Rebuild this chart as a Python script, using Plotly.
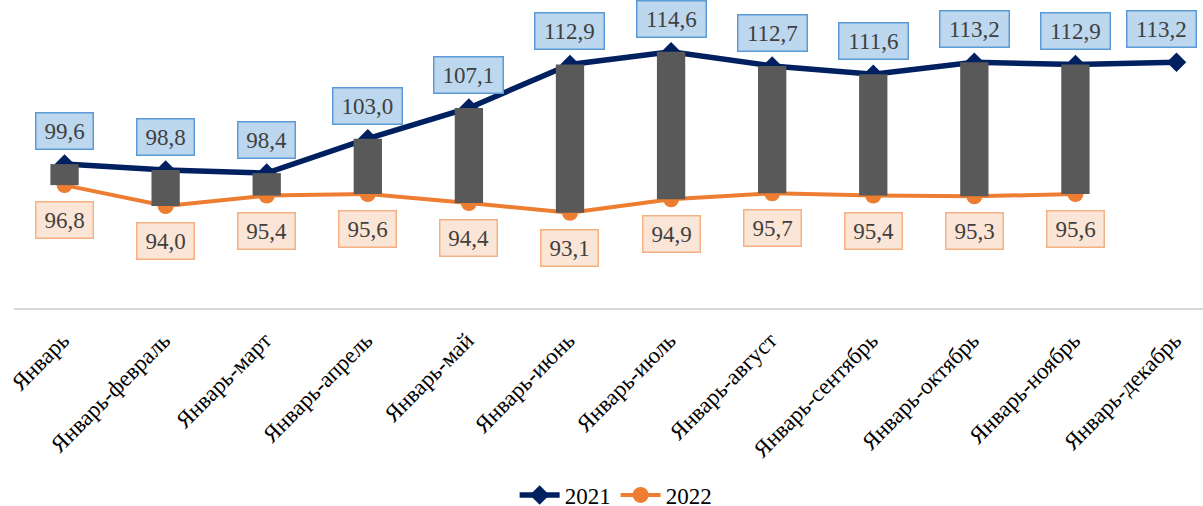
import plotly.graph_objects as go

categories = ["Январь", "Январь-февраль", "Январь-март", "Январь-апрель", "Январь-май",
              "Январь-июнь", "Январь-июль", "Январь-август", "Январь-сентябрь",
              "Январь-октябрь", "Январь-ноябрь", "Январь-декабрь"]
values_2021 = [99.6, 98.8, 98.4, 103.0, 107.1, 112.9, 114.6, 112.7, 111.6, 113.2, 112.9, 113.2]
values_2022 = [96.8, 94.0, 95.4, 95.6, 94.4, 93.1, 94.9, 95.7, 95.4, 95.3, 95.6, None]

FONT = "Liberation Serif"
NAVY = "#002060"
ORANGE = "#ED7D31"
FIG_W, FIG_H = 1203, 506
M_L, M_R, M_T, M_B = 14, 0, 0, 198
XR = [-0.5, 11.262]
YR = [80.4, 121.5]
PAD = 5


def fmt(v):
    return f"{v:.1f}".replace(".", ",")


def box_width(txt, size):
    w = sum(0.25 if ch == "," else 0.5 for ch in txt) * size
    return w + 6


def clamp_shift(i, w):
    # keep a label box inside the figure
    px = M_L + (i - XR[0]) / (XR[1] - XR[0]) * (FIG_W - M_L - M_R)
    right = px + w / 2 + PAD + 8
    return min(0, FIG_W - right)


fig = go.Figure()

fig.add_trace(go.Scatter(
    x=categories, y=values_2021, name="2021", mode="lines+markers",
    line=dict(color=NAVY, width=5.5),
    marker=dict(symbol="diamond", size=15, color=NAVY),
    xaxis="x", yaxis="y"))
fig.add_trace(go.Scatter(
    x=categories, y=values_2022, name="2022", mode="lines+markers",
    line=dict(color=ORANGE, width=4),
    marker=dict(symbol="circle", size=16, color=ORANGE),
    xaxis="x", yaxis="y"))

bar_x, bar_base, bar_h = [], [], []
for c, a, b in zip(categories, values_2021, values_2022):
    if a is not None and b is not None:
        bar_x.append(c)
        bar_base.append(min(a, b))
        bar_h.append(abs(a - b))

fig.add_trace(go.Bar(
    x=bar_x, y=bar_h, base=bar_base, width=0.28,
    marker=dict(color="#595959", line=dict(width=0)),
    showlegend=False, xaxis="x2", yaxis="y2", hoverinfo="skip"))

LBL = 23
ann = []
for i, (c, v) in enumerate(zip(categories, values_2021)):
    t = fmt(v)
    w = box_width(t, LBL)
    ann.append(dict(x=c, y=v, xref="x", yref="y", text=t, showarrow=False,
                    yanchor="middle", yshift=33, xshift=clamp_shift(i, w), width=w,
                    font=dict(family=FONT, size=LBL, color="#404040"),
                    bgcolor="#BDD7EE", bordercolor="#5B9BD5", borderwidth=1.5, borderpad=PAD))
for i, (c, v) in enumerate(zip(categories, values_2022)):
    if v is None:
        continue
    t = fmt(v)
    w = box_width(t, LBL)
    ann.append(dict(x=c, y=v, xref="x", yref="y", text=t, showarrow=False,
                    yanchor="middle", yshift=-35, xshift=clamp_shift(i, w), width=w,
                    font=dict(family=FONT, size=LBL, color="#404040"),
                    bgcolor="#FBE5D6", bordercolor="#F4B183", borderwidth=1.5, borderpad=PAD))

fig.update_layout(
    width=FIG_W, height=FIG_H,
    margin=dict(l=M_L, r=M_R, t=M_T, b=M_B, autoexpand=False),
    paper_bgcolor="white", plot_bgcolor="white",
    font=dict(family=FONT, color="black"),
    showlegend=True,
    legend=dict(orientation="h", x=0.506, xanchor="center", y=-0.607, yanchor="middle",
                font=dict(family=FONT, size=23, color="black"), itemwidth=40),
    xaxis=dict(type="category", range=XR, showline=True, linecolor="#D9D9D9", linewidth=1.5,
               showgrid=False, zeroline=False, ticks="", tickangle=-45,
               ticklabelstandoff=8, ticklabelshift=-2,
               tickfont=dict(family=FONT, size=23, color="black")),
    yaxis=dict(range=YR, visible=False, showgrid=False, zeroline=False),
    xaxis2=dict(type="category", overlaying="x", range=XR, visible=False,
                categoryorder="array", categoryarray=categories),
    yaxis2=dict(overlaying="y", range=YR, visible=False),
    annotations=ann,
)

fig.write_html("out.html", config={"displayModeBar": False},
               post_script="document.body.style.margin='0';document.body.style.overflow='hidden';")
